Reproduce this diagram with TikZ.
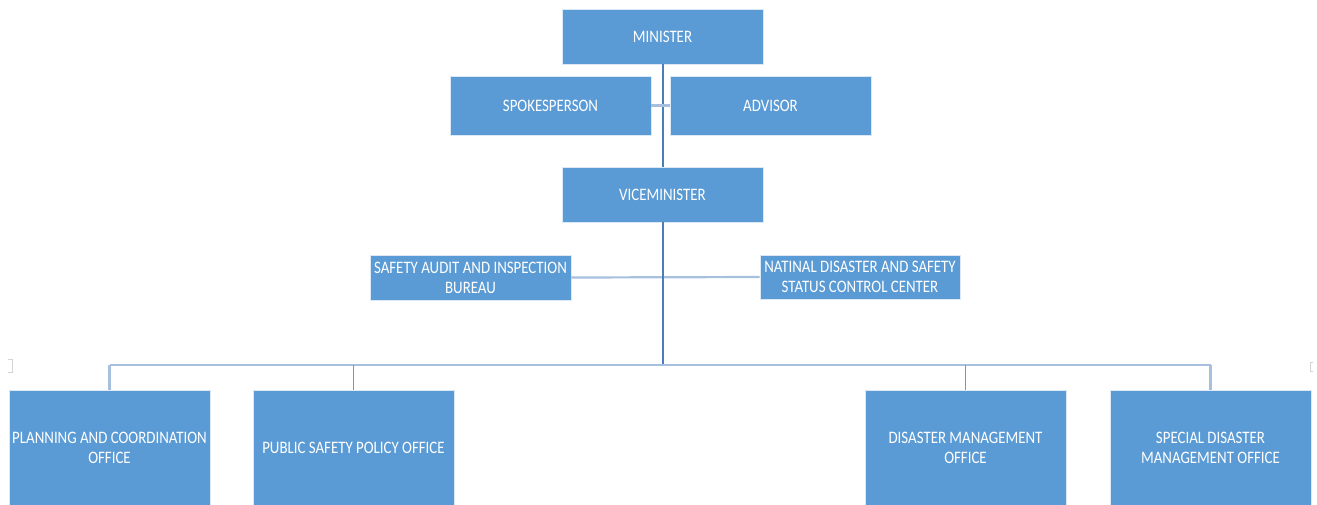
\documentclass[tikz,border=0pt]{standalone}
\usepackage{fontspec}
\setmainfont{Carlito}[FakeStretch=0.85]
\definecolor{boxblue}{HTML}{5B9BD5}
\definecolor{boxedge}{HTML}{DCE8F5}
\definecolor{linedark}{HTML}{4A7DBA}
\definecolor{linemid}{HTML}{6F97C8}
\definecolor{linelight}{HTML}{A6C0DE}
\definecolor{handlegray}{HTML}{D4D4D4}
\begin{document}
\begin{tikzpicture}[x=1pt,y=-1pt,
  box/.style={rectangle, fill=boxblue, draw=boxedge, line width=0.8pt,
    text=white, align=center, inner sep=1pt,
    font=\fontsize{17.5}{20}\selectfont, minimum width=201pt},
  trunk/.style={draw=linedark, line width=2pt},
  drop/.style={draw=linemid, line width=1.6pt},
  branch/.style={draw=linelight, line width=2.2pt},
  handle/.style={draw=handlegray, line width=0.8pt}]
\useasboundingbox (0,0) rectangle (1317,504);
\clip (0,0) rectangle (1317,504);

% top level
\node[box, minimum height=55pt] (min) at (662.5,36.5) {MINISTER};
\node[box, minimum height=59pt] (spk) at (550.5,105.5) {SPOKESPERSON};
\node[box, minimum height=59pt] (adv) at (770.5,105.5) {ADVISOR};
\node[box, minimum height=55pt] (vice) at (662.5,194.5) {VICEMINISTER};

% staff units under the vice minister
\node[box, minimum height=45pt] (audit) at (470.5,277.5) {SAFETY AUDIT AND INSPECTION\\BUREAU};
\node[box, minimum height=44pt, minimum width=200pt] (ctrl) at (860,277) {NATINAL DISASTER AND SAFETY\\STATUS CONTROL CENTER};

% offices
\node[box, minimum height=115pt] (plan) at (109.5,447.5) {PLANNING AND COORDINATION\\OFFICE};
\node[box, minimum height=115pt] (pub) at (353.5,447.5) {PUBLIC SAFETY POLICY OFFICE};
\node[box, minimum height=115pt] (dis) at (965.5,447.5) {DISASTER MANAGEMENT\\OFFICE};
\node[box, minimum height=115pt] (spec) at (1210.5,447.5) {SPECIAL DISASTER\\MANAGEMENT OFFICE};

\coordinate (bus) at (662.5,365);

% connectors
\draw[trunk] (min.south) -- (vice.north);
\draw[branch] (spk.east) -- (adv.west);
\draw[branch] (audit.east) -- (ctrl.west);
\draw[trunk] (vice.south) -- (bus);
\draw[branch] (plan.north |- bus) -- (spec.north |- bus);
\draw[branch] (plan.north |- bus) -- (plan.north);
\draw[drop] (pub.north |- bus) -- (pub.north);
\draw[drop] (dis.north |- bus) -- (dis.north);
\draw[branch] (spec.north |- bus) -- (spec.north);

% selection handles at the ends of the office row
\draw[handle] (8,359) -- (12,359) -- (12,372) -- (8,372);
\draw[handle] (1313,362) -- (1310,362) -- (1310,371) -- (1313,371);
\end{tikzpicture}
\end{document}
